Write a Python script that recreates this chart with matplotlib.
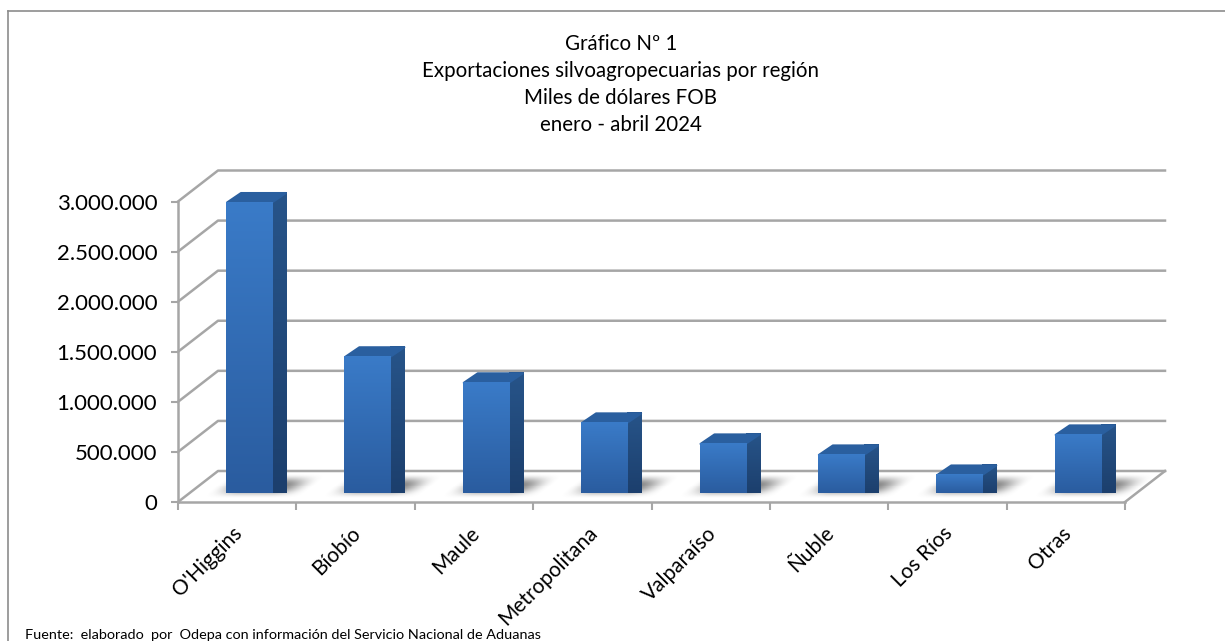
import numpy as np
import matplotlib
matplotlib.use('Agg')
import matplotlib.pyplot as plt
from matplotlib.colors import LinearSegmentedColormap
from matplotlib.lines import Line2D
from matplotlib.patches import Polygon, FancyBboxPatch

plt.rcParams['font.family'] = ['Lato', 'DejaVu Sans']

regiones = ["O'Higgins", 'Bíobío', 'Maule', 'Metropolitana', 'Valparaíso', 'Ñuble', 'Los Ríos', 'Otras']
valores = [2900000, 1360000, 1100000, 700000, 490000, 380000, 180000, 580000]
yticks = [0, 500000, 1000000, 1500000, 2000000, 2500000, 3000000]
ytick_labels = ['0', '500.000', '1.000.000', '1.500.000', '2.000.000', '2.500.000', '3.000.000']

W, H = 1225, 641
fig = plt.figure(figsize=(W / 100, H / 100), dpi=100)
fig.patch.set_facecolor('white')

# plot area = front plane of the fake 3D box
x0, x1, y0, y1 = 178, 1125, 502, 201.5
ax = fig.add_axes([x0 / W, 1 - y0 / H, (x1 - x0) / W, (y0 - y1) / H])
ax.patch.set_alpha(0)
for s in ax.spines.values():
    s.set_visible(False)

n = len(regiones)
px = n / (x1 - x0)
py = 3000000 / (y0 - y1)
GRID = '#a6a6a6'

# depth of the box and of the bars
box_dx, box_dy = 40 * px, 31 * py
bar_w = 47 * px
bar_dx, bar_dy = 14 * px, 10.5 * py
front_dx, front_dy = 48 * px, 9 * py

# back wall and floor
for t in yticks:
    ax.plot([0, box_dx, n + box_dx], [t, t + box_dy, t + box_dy], color=GRID, lw=1.8, clip_on=False, zorder=1)
ax.plot([n, n + box_dx], [0, box_dy], color=GRID, lw=1.8, clip_on=False, zorder=1)
ax.plot([0, 0], [0, 3000000], color=GRID, lw=1.8, clip_on=False, zorder=1)
ax.plot([0, n], [0, 0], color=GRID, lw=1.8, clip_on=False, zorder=1)

ax.set_xticks(range(n + 1))
ax.set_xticklabels([])
ax.set_yticks(yticks)
ax.set_yticklabels(ytick_labels, fontsize=16, color='black')
ax.tick_params(axis='y', length=5, width=1.5, color=GRID, pad=10)
ax.tick_params(axis='x', length=6, width=1.5, color=GRID)

front = LinearSegmentedColormap.from_list('front', ['#2a5c9f', '#3a7bc8'])
side = LinearSegmentedColormap.from_list('side', ['#1c3f6d', '#275489'])
ramp = np.linspace(0, 1, 128).reshape(-1, 1)


def suave(t):
    t = np.clip(t, 0, 1)
    return t * t * (3 - 2 * t)


# soft floor shadow, sheared like the floor, pixels relative to the bar's lower left corner
sx = np.arange(-40, 115)
sy = np.linspace(20, -6, 27)
gx, gy = np.meshgrid(sx, sy)
alto = (gy + 6) / 26
corrido = gx - alto * 30
mascara = suave((corrido + 26) / 34) * suave((74 - corrido) / 34) * suave(alto / 0.45) * suave((1 - alto) / 0.45)
sombra = np.ones(mascara.shape + (4,)) * 0.5
sombra[..., 3] = mascara * 0.95

for i, (nombre, v) in enumerate(zip(regiones, valores)):
    left = i + front_dx
    right = left + bar_w
    base = front_dy

    ax.imshow(sombra, aspect='auto', zorder=2, interpolation='nearest',
              extent=[left + sx[0] * px, left + sx[-1] * px, base - 6 * py, base + 20 * py], clip_on=False)

    # front face
    face = ax.imshow(ramp, cmap=front, origin='lower', aspect='auto', zorder=4,
                     extent=[left, right, base, base + v], clip_on=False)
    face.set_clip_path(FancyBboxPatch((left, base), bar_w, v, boxstyle='round,pad=0,rounding_size=0.02',
                                      mutation_aspect=py / px, transform=ax.transData))
    # side face
    sd = ax.imshow(ramp, cmap=side, origin='lower', aspect='auto', zorder=3,
                   extent=[right - 1 * px, right + bar_dx, base, base + v + bar_dy], clip_on=False)
    sd.set_clip_path(Polygon([(right - 1 * px, base), (right, base), (right + bar_dx, base + bar_dy),
                              (right + bar_dx, base + v + bar_dy - 2 * py), (right + bar_dx - 2 * px, base + v + bar_dy),
                              (right, base + v)], transform=ax.transData))
    # top face
    ax.add_patch(Polygon([(left + 1 * px, base + v), (right - 1 * px, base + v),
                          (right + bar_dx - 1 * px, base + v + bar_dy - 1 * py),
                          (left + bar_dx + 1 * px, base + v + bar_dy - 1 * py)], closed=True, facecolor='#2a5f9f',
                         edgecolor='#2a5f9f', lw=1.5, joinstyle='round', zorder=3, clip_on=False))

    ax.annotate(nombre, xy=(i + 0.5, 0), xycoords='data', xytext=(-3.5, -15), textcoords='offset points',
                rotation=45, rotation_mode='anchor', ha='right', va='top', fontsize=15, color='black',
                annotation_clip=False, zorder=6)

ax.set_xlim(0, n)
ax.set_ylim(0, 3000000)

# chart frame: only top and left show in the crop
borde = '#8c8c8c'
fig.add_artist(Line2D([8 / W, 1], [1 - 10.5 / H, 1 - 10.5 / H], color=borde, lw=1.2))
fig.add_artist(Line2D([8 / W, 8 / W], [0, 1 - 10.5 / H], color=borde, lw=1.2))

titulos = ['Gráfico Nº 1', 'Exportaciones silvoagropecuarias por región', 'Miles de dólares FOB', 'enero - abril 2024']
for k, linea in enumerate(titulos):
    fig.text(621 / W, 1 - (43.5 + k * 27.2) / H, linea, ha='center', va='center', fontsize=14.8, color='black')
fig.text(25 / W, 1 - 635 / H, 'Fuente:  elaborado  por  Odepa con información del Servicio Nacional de Aduanas',
         ha='left', va='center', fontsize=10.4, color='black')

fig.savefig('out.png', dpi=100)
